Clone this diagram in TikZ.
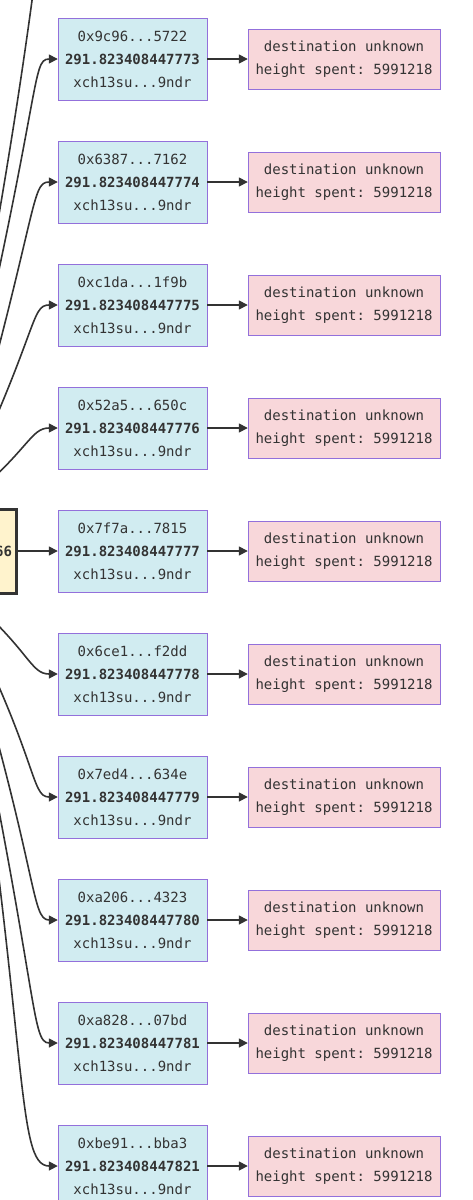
\documentclass[tikz,border=0pt]{standalone}
\usepackage{xcolor}
\usepackage{tikz}
\usepackage{fontspec}
\setmonofont{DejaVu Sans Mono}
\usetikzlibrary{arrows.meta}

\definecolor{txt}{HTML}{333333}
\definecolor{infobg}{HTML}{D1ECF1}
\definecolor{warnbg}{HTML}{FFF3CD}
\definecolor{dangerbg}{HTML}{F8D7DA}
\definecolor{nodeline}{HTML}{9370DB}

\begin{document}
\begin{tikzpicture}[x=1pt, y=-1pt, font={\fontsize{14}{23}\selectfont\ttfamily}, text=txt]
    \tikzstyle{utxo} = [rectangle, draw=nodeline, fill=infobg, minimum width=149pt, minimum height=82pt, align=center, inner sep=0pt]
    \tikzstyle{dest} = [rectangle, draw=nodeline, fill=dangerbg, minimum width=192pt, minimum height=60pt, align=center, inner sep=0pt]
    \tikzstyle{tx} = [rectangle, draw=txt, line width=3pt, fill=warnbg, minimum height=84pt, text width=291pt, inner xsep=4.5pt, align=right]
    \tikzstyle{flow} = [draw=txt, line width=1.6pt, -{Triangle[length=9pt, width=9pt]}]

    \useasboundingbox (0,0) rectangle (473,1200);
    \clip (0,0) rectangle (473,1200);

    % spending transaction (cut off on the left)
    \node[tx] (src) at (-133.5,551) {\textbf{66}};
    \coordinate (up) at (58,-64);

    % outputs
    \node[utxo] (o1) at (132.5,59) {0x9c96...5722\\\textbf{291.823408447773}\\xch13su...9ndr};
    \node[utxo] (o2) at (132.5,182) {0x6387...7162\\\textbf{291.823408447774}\\xch13su...9ndr};
    \node[utxo] (o3) at (132.5,305) {0xc1da...1f9b\\\textbf{291.823408447775}\\xch13su...9ndr};
    \node[utxo] (o4) at (132.5,428) {0x52a5...650c\\\textbf{291.823408447776}\\xch13su...9ndr};
    \node[utxo] (o5) at (132.5,551) {0x7f7a...7815\\\textbf{291.823408447777}\\xch13su...9ndr};
    \node[utxo] (o6) at (132.5,674) {0x6ce1...f2dd\\\textbf{291.823408447778}\\xch13su...9ndr};
    \node[utxo] (o7) at (132.5,797) {0x7ed4...634e\\\textbf{291.823408447779}\\xch13su...9ndr};
    \node[utxo] (o8) at (132.5,920) {0xa206...4323\\\textbf{291.823408447780}\\xch13su...9ndr};
    \node[utxo] (o9) at (132.5,1043) {0xa828...07bd\\\textbf{291.823408447781}\\xch13su...9ndr};
    \node[utxo] (o10) at (132.5,1166) {0xbe91...bba3\\\textbf{291.823408447821}\\xch13su...9ndr};

    % where they went
    \node[dest] (d1) at (344,59) {destination unknown\\height spent: 5991218};
    \node[dest] (d2) at (344,182) {destination unknown\\height spent: 5991218};
    \node[dest] (d3) at (344,305) {destination unknown\\height spent: 5991218};
    \node[dest] (d4) at (344,428) {destination unknown\\height spent: 5991218};
    \node[dest] (d5) at (344,551) {destination unknown\\height spent: 5991218};
    \node[dest] (d6) at (344,674) {destination unknown\\height spent: 5991218};
    \node[dest] (d7) at (344,797) {destination unknown\\height spent: 5991218};
    \node[dest] (d8) at (344,920) {destination unknown\\height spent: 5991218};
    \node[dest] (d9) at (344,1043) {destination unknown\\height spent: 5991218};
    \node[dest] (d10) at (344,1166) {destination unknown\\height spent: 5991218};

    \draw[flow] ([xshift=-73pt]src.north east) .. controls (50,-30) and (30,-64) .. (up);
    \draw[flow] ([xshift=-73pt]src.north east) .. controls (45,90) and (30,59) .. (o1.west);
    \draw[flow] ([xshift=-63pt]src.north east) .. controls (40,210) and (30,182) .. (o2.west);
    \draw[flow] ([xshift=-63pt]src.north east) .. controls (40,330) and (30,305) .. (o3.west);
    \draw[flow] ([xshift=-58pt]src.north east) .. controls (30,450) and (30,428) .. (o4.west);
    \draw[flow] (src.east) -- (o5.west);
    \draw[flow] ([xshift=-53pt]src.south east) .. controls (30,650) and (30,674) .. (o6.west);
    \draw[flow] ([xshift=-63pt]src.south east) .. controls (40,760) and (30,797) .. (o7.west);
    \draw[flow] ([xshift=-63pt]src.south east) .. controls (40,870) and (30,920) .. (o8.west);
    \draw[flow] ([xshift=-63pt]src.south east) .. controls (40,990) and (30,1043) .. (o9.west);
    \draw[flow] ([xshift=-58pt]src.south east) .. controls (30,1050) and (15,1166) .. (o10.west);

    \draw[flow] (o1) -- (d1);
    \draw[flow] (o2) -- (d2);
    \draw[flow] (o3) -- (d3);
    \draw[flow] (o4) -- (d4);
    \draw[flow] (o5) -- (d5);
    \draw[flow] (o6) -- (d6);
    \draw[flow] (o7) -- (d7);
    \draw[flow] (o8) -- (d8);
    \draw[flow] (o9) -- (d9);
    \draw[flow] (o10) -- (d10);
\end{tikzpicture}
\end{document}
